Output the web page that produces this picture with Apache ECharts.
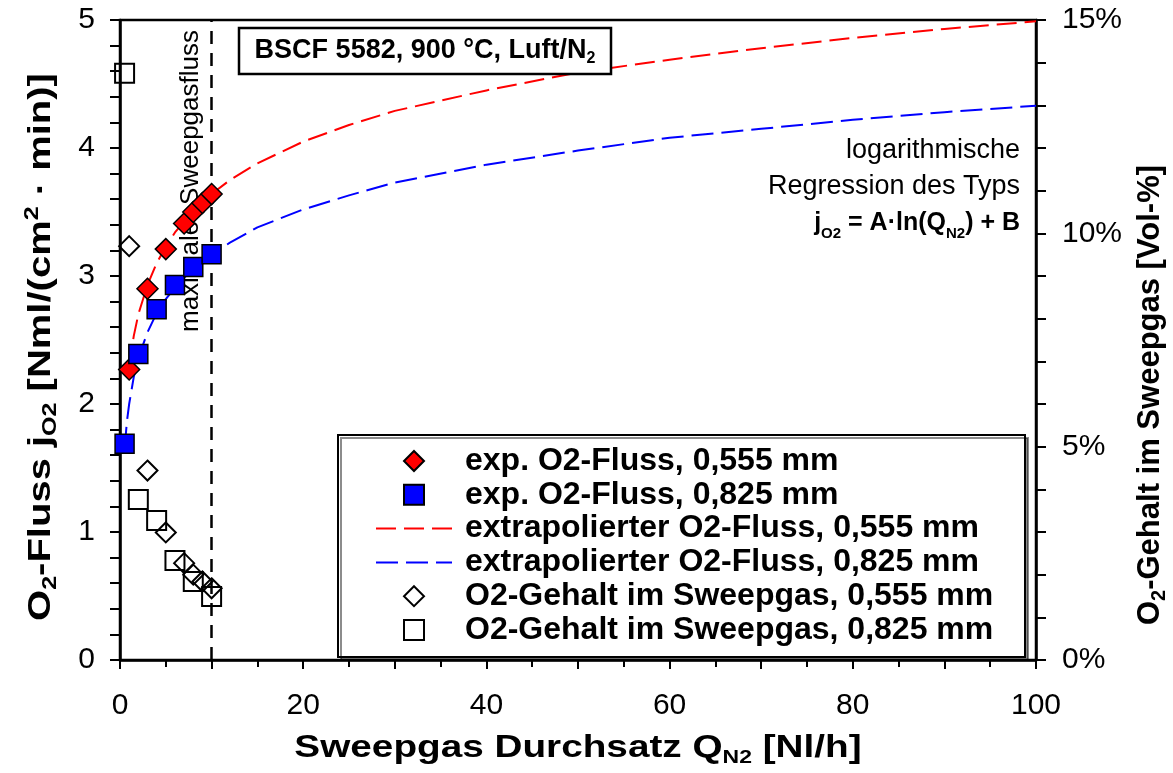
<!DOCTYPE html>
<html>
<head>
<meta charset="utf-8">
<script src="https://cdn.jsdelivr.net/npm/echarts@6/dist/echarts.min.js"></script>
<style>
  html, body { margin: 0; padding: 0; background: #fff; }
  #chart { width: 1173px; height: 773px; }
</style>
</head>
<body>
<div id="chart"></div>
<script>
// Measured oxygen flux j_O2 [Nml/(cm²·min)] over sweep gas rate Q_N2 [Nl/h]
const flowQ555 = [1, 3, 5, 7, 8, 9, 10];
const flow555  = [2.27, 2.90, 3.21, 3.41, 3.50, 3.57, 3.64];
const flowQ825 = [0.5, 2, 4, 6, 8, 10];
const flow825  = [1.69, 2.39, 2.74, 2.93, 3.07, 3.17];

// Oxygen content in the sweep gas [Vol-%]
const contentQ555 = [1, 3, 5, 7, 8, 9, 10];
const content555  = [9.70, 4.44, 2.99, 2.27, 2.00, 1.84, 1.68];
const contentQ825 = [0.5, 2, 4, 6, 8, 10];
const content825  = [13.75, 3.76, 3.27, 2.33, 1.84, 1.49];

// Logarithmic regression curves, extrapolated up to 100 Nl/h
const fitQ555 = [1, 1.5, 2, 3, 4, 5, 6, 8, 10, 12, 15, 20, 25, 30, 40, 50, 60, 70, 80, 90, 100];
const fit555  = [2.29, 2.53, 2.70, 2.93, 3.10, 3.23, 3.34, 3.51, 3.64, 3.75, 3.88, 4.05, 4.18, 4.29, 4.45, 4.59, 4.69, 4.78, 4.86, 4.93, 4.99];
const fitQ825 = [0.5, 0.75, 1, 1.5, 2, 3, 4, 5, 6, 8, 10, 12, 15, 20, 25, 30, 40, 50, 60, 70, 80, 90, 100];
const fit825  = [1.65, 1.86, 2.00, 2.21, 2.36, 2.56, 2.71, 2.82, 2.91, 3.06, 3.17, 3.26, 3.38, 3.52, 3.63, 3.73, 3.87, 3.98, 4.08, 4.15, 4.22, 4.28, 4.33];

// Maximum sweep gas rate of the test rig
const maxSweepFlow = 10;

const xTicks = [0, 20, 40, 60, 80, 100];

const seriesNames = [
  'exp. O2-Fluss, 0,555 mm',
  'exp. O2-Fluss, 0,825 mm',
  'extrapolierter O2-Fluss, 0,555 mm',
  'extrapolierter O2-Fluss, 0,825 mm',
  'O2-Gehalt im Sweepgas, 0,555 mm',
  'O2-Gehalt im Sweepgas, 0,825 mm'
];

const pairs = (xs, ys) => xs.map((x, i) => [x, ys[i]]);

const FONT = 'Liberation Sans, Arial, sans-serif';
const AX = { color: '#000', width: 2.5 };
const TICK = { color: '#000', width: 2 };

const chart = echarts.init(document.getElementById('chart'), null, { renderer: 'canvas' });

function titleRich(size, sub) {
  return {
    b:   { fontFamily: FONT, fontSize: size, fontWeight: 'bold', fill: '#000', lineHeight: 38 },
    s:   { fontFamily: FONT, fontSize: sub, fontWeight: 'bold', fill: '#000', lineHeight: 20, verticalAlign: 'bottom' },
    sup: { fontFamily: FONT, fontSize: sub, fontWeight: 'bold', fill: '#000', lineHeight: 22, verticalAlign: 'top' }
  };
}

// legend rows: 33.8 px apart, first row centred at y = 461
const ROW = 33.8;
const LEG_TOP = 445;
const LEG_FS = 32;
const legendText = { fontFamily: FONT, fontSize: LEG_FS, fontWeight: 'bold', color: '#000', lineHeight: 32 };

function markerLegend(names, top) {
  return {
    data: names, orient: 'vertical', left: 403, top: top,
    itemWidth: 20, itemHeight: 20, itemGap: ROW - 32, padding: 0,
    selectedMode: false,
    textStyle: Object.assign({ padding: [0, 0, 0, 36] }, legendText)
  };
}

const option = {
  backgroundColor: '#fff',
  animation: false,
  grid: {
    left: 120, right: 137, top: 20, bottom: 113,
    outerBoundsMode: 'none', containLabel: false,
    show: true, borderColor: '#000', borderWidth: 2.5, backgroundColor: 'transparent'
  },
  xAxis: {
    type: 'value', min: 0, max: 100, interval: 10,
    axisLine: { show: true, onZero: false, lineStyle: AX },
    axisTick: { show: true, length: 9, lineStyle: TICK },
    minorTick: { show: true, splitNumber: 2, length: 7, lineStyle: TICK },
    splitLine: { show: false },
    axisLabel: {
      margin: 31, fontFamily: FONT, fontSize: 30, color: '#000',
      formatter: v => (xTicks.indexOf(v) >= 0 ? String(v) : '')
    }
  },
  yAxis: [
    {
      type: 'value', min: 0, max: 5, interval: 1,
      axisLine: { show: true, onZero: false, lineStyle: AX },
      axisTick: { show: true, length: 10, lineStyle: TICK },
      minorTick: { show: true, splitNumber: 5, length: 10, lineStyle: TICK },
      splitLine: { show: false },
      axisLabel: { margin: 25, fontFamily: FONT, fontSize: 30, color: '#000' }
    },
    {
      type: 'value', min: 0, max: 15, interval: 5, position: 'right',
      axisLine: { show: true, onZero: false, lineStyle: AX },
      axisTick: { show: true, length: 10, lineStyle: TICK },
      minorTick: { show: true, splitNumber: 5, length: 10, lineStyle: TICK },
      splitLine: { show: false },
      axisLabel: { margin: 26, fontFamily: FONT, fontSize: 30, color: '#000', formatter: '{value}%' }
    }
  ],
  legend: [
    markerLegend([seriesNames[0], seriesNames[1]], LEG_TOP),
    {
      data: [
        { name: seriesNames[2], itemStyle: { opacity: 0 } },
        { name: seriesNames[3], itemStyle: { opacity: 0 } }
      ],
      orient: 'vertical', left: 375, top: LEG_TOP + 2 * ROW,
      itemWidth: 76, itemHeight: 20, itemGap: ROW - 32, padding: 0,
      selectedMode: false,
      textStyle: Object.assign({ padding: [0, 0, 0, 8] }, legendText)
    },
    markerLegend([seriesNames[4], seriesNames[5]], LEG_TOP + 4 * ROW)
  ],
  graphic: [
    {
      type: 'rect', z: 3,
      shape: { x: 338, y: 435, width: 687, height: 222 },
      style: { fill: '#fff', stroke: '#000', lineWidth: 2, shadowColor: 'rgba(0,0,0,0.45)', shadowOffsetX: 3, shadowOffsetY: 3 }
    },
    {
      type: 'rect', z: 3,
      shape: { x: 239, y: 28, width: 372, height: 46 },
      style: { fill: '#fff', stroke: '#000', lineWidth: 2.5 }
    },
    {
      type: 'text', z: 4, x: 425, y: 51,
      style: {
        text: '{b|BSCF 5582, 900 °C, Luft/N}{s|2}',
        align: 'center', verticalAlign: 'middle',
        rich: {
          b: { fontFamily: FONT, fontSize: 27, fontWeight: 'bold', fill: '#000', lineHeight: 32 },
          s: { fontFamily: FONT, fontSize: 16, fontWeight: 'bold', fill: '#000', lineHeight: 17, verticalAlign: 'bottom' }
        }
      }
    },
    {
      type: 'text', z: 4, x: 1020, y: 133,
      style: {
        text: '{r|logarithmische}\n{r|Regression des Typs}\n{b|j}{s|O2}{b| = A·ln(Q}{s|N2}{b|) + B}',
        align: 'right', verticalAlign: 'top',
        rich: {
          r: { fontFamily: FONT, fontSize: 27, fill: '#000', lineHeight: 36 },
          b: { fontFamily: FONT, fontSize: 25, fontWeight: 'bold', fill: '#000', lineHeight: 36 },
          s: { fontFamily: FONT, fontSize: 15, fontWeight: 'bold', fill: '#000', lineHeight: 18, verticalAlign: 'bottom' }
        }
      }
    },
    // axis titles
    {
      type: 'text', z: 4, x: 578, y: 748, scaleX: 1.21,
      style: {
        text: '{b|Sweepgas Durchsatz Q}{s|N2}{b| [Nl/h]}',
        align: 'center', verticalAlign: 'middle', rich: titleRich(32, 19)
      }
    },
    {
      type: 'text', z: 4, x: 41, y: 347, rotation: Math.PI / 2, scaleX: 1.25,
      style: {
        text: '{b|O}{s|2}{b|-Fluss j}{s|O2}{b| [Nml/(cm}{sup|2}{b| · min)]}',
        align: 'center', verticalAlign: 'middle', rich: titleRich(32, 20)
      }
    },
    {
      type: 'text', z: 4, x: 1150, y: 395, rotation: Math.PI / 2,
      style: {
        text: '{b|O}{s|2}{b|-Gehalt im Sweepgas [Vol-%]}',
        align: 'center', verticalAlign: 'middle', rich: titleRich(31, 20)
      }
    }
  ],
  series: [
    {
      name: seriesNames[2], type: 'line', z: 2, symbol: 'none',
      data: pairs(fitQ555, fit555),
      lineStyle: { color: '#ff0000', width: 2, type: [20, 8] },
      itemStyle: { color: '#ff0000' }
    },
    {
      name: seriesNames[3], type: 'line', z: 2, symbol: 'none',
      data: pairs(fitQ825, fit825),
      lineStyle: { color: '#0000ff', width: 2, type: [22, 8] },
      itemStyle: { color: '#0000ff' }
    },
    {
      name: 'maxSweep', type: 'line', z: 2, data: [],
      markLine: {
        silent: true, symbol: ['none', 'none'],
        lineStyle: { color: '#000', width: 2.5, type: [13, 9] },
        label: {
          show: true, formatter: 'maximaler Sweepgasfluss',
          position: 'insideEndTop', distance: [10, 8],
          fontFamily: FONT, fontSize: 26, color: '#000'
        },
        data: [{ xAxis: maxSweepFlow }]
      }
    },
    {
      name: seriesNames[4], type: 'scatter', z: 4, yAxisIndex: 1,
      symbol: 'diamond', symbolSize: 20,
      data: pairs(contentQ555, content555),
      itemStyle: { color: 'rgba(255,255,255,0)', borderColor: '#000', borderWidth: 2, opacity: 1 }
    },
    {
      name: seriesNames[5], type: 'scatter', z: 4, yAxisIndex: 1,
      symbol: 'rect', symbolSize: 19,
      data: pairs(contentQ825, content825),
      itemStyle: { color: 'rgba(255,255,255,0)', borderColor: '#000', borderWidth: 2, opacity: 1 }
    },
    {
      name: seriesNames[0], type: 'scatter', z: 5,
      symbol: 'diamond', symbolSize: 21,
      data: pairs(flowQ555, flow555),
      itemStyle: { color: '#ff0000', borderColor: '#000', borderWidth: 1.5, opacity: 1 }
    },
    {
      name: seriesNames[1], type: 'scatter', z: 5,
      symbol: 'rect', symbolSize: 19,
      data: pairs(flowQ825, flow825),
      itemStyle: { color: '#0000ff', borderColor: '#000', borderWidth: 1.5, opacity: 1 }
    }
  ]
};

chart.setOption(option);
</script>
</body>
</html>
